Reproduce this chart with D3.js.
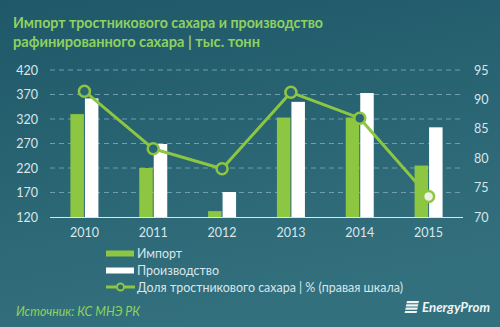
<!DOCTYPE html>
<html>
<head>
<meta charset="utf-8">
<script src="https://cdn.jsdelivr.net/npm/d3@7"></script>
<style>
  html, body { margin: 0; padding: 0; background: #245d6c; }
  svg { display: block; }
</style>
</head>
<body>
<svg id="chart" width="500" height="327"></svg>
<script>
// Data: cane sugar imports, refined sugar production (thousand tonnes), cane share (%)
const years = ["2010", "2011", "2012", "2013", "2014", "2015"];
const importVals = [330, 220, 132, 323, 323, 225];
const productionVals = [362, 269, 171, 355, 373, 303];
const shareVals = [91.4, 81.6, 78.2, 91.2, 86.8, 73.5];
const leftTicks = [120, 170, 220, 270, 320, 370, 420];
const rightTicks = [70, 75, 80, 85, 90, 95];

const titleLines = ["Импорт тростникового сахара и производство", "рафинированного сахара | тыс. тонн"];
const legendLabels = ["Импорт", "Производство", "Доля тростникового сахара | % (правая шкала)"];
const sourceText = "Источник: КС МНЭ РК";

const W = 500, H = 327;
const green = "#8dc640";
const textColor = "#d9e6ec";
const font = "Lato, 'Open Sans', sans-serif";

const svg = d3.select("#chart");

// Background gradient
const defs = svg.append("defs");
const grad = defs.append("linearGradient").attr("id", "bg").attr("x1", 0).attr("y1", 0).attr("x2", 0.3).attr("y2", 1);
grad.append("stop").attr("offset", "0%").attr("stop-color", "#1f5868");
grad.append("stop").attr("offset", "100%").attr("stop-color", "#33707d");
svg.append("rect").attr("width", W).attr("height", H).attr("fill", "url(#bg)");

// Title
const title = svg.append("g").attr("font-family", font).attr("font-weight", "bold")
  .attr("fill", "#8fd160").attr("font-size", 15);
const titleWidths = [310, 247];
titleLines.forEach((t, i) => {
  const tx = title.append("text").attr("x", 13).attr("y", 28 + i * 19).text(t);
  tx.attr("textLength", titleWidths[i]).attr("lengthAdjust", "spacingAndGlyphs");
});

// Scales
const plot = { left: 50, right: 463, top: 70, bottom: 217 };
const x = d3.scaleBand().domain(years).range([plot.left, plot.right]).paddingInner(0).paddingOuter(0);
const yL = d3.scaleLinear().domain([120, 420]).range([plot.bottom, plot.top]);
const yR = d3.scaleLinear().domain([70, 95]).range([plot.bottom, plot.top]);

// Gridlines
svg.append("g").selectAll("line").data(leftTicks.filter(d => d !== 120)).join("line")
  .attr("x1", plot.left).attr("x2", plot.right)
  .attr("y1", d => yL(d)).attr("y2", d => yL(d))
  .attr("stroke", "#6f9eac").attr("stroke-width", 1).attr("stroke-dasharray", "5,4");

// Bars
const barW = 13.5;
const bars = svg.append("g");
bars.selectAll("rect.imp").data(years).join("rect")
  .attr("x", (d) => x(d) + x.bandwidth() / 2 - barW - 0.5)
  .attr("y", (d, i) => yL(importVals[i]))
  .attr("width", barW)
  .attr("height", (d, i) => yL(120) - yL(importVals[i]))
  .attr("fill", green);
bars.selectAll("rect.prod").data(years).join("rect")
  .attr("x", (d) => x(d) + x.bandwidth() / 2 + 0.5)
  .attr("y", (d, i) => yL(productionVals[i]))
  .attr("width", barW)
  .attr("height", (d, i) => yL(120) - yL(productionVals[i]))
  .attr("fill", "#ffffff");

// Baseline
svg.append("line").attr("x1", plot.left).attr("x2", plot.right)
  .attr("y1", plot.bottom + 0.5).attr("y2", plot.bottom + 0.5)
  .attr("stroke", "#d9e6ec").attr("stroke-width", 1.2);

// Share line
const lineGen = d3.line().x((d, i) => x(years[i]) + x.bandwidth() / 2).y(d => yR(d));
svg.append("path").datum(shareVals).attr("d", lineGen)
  .attr("fill", "none").attr("stroke", green).attr("stroke-width", 3).attr("stroke-linejoin", "round");
svg.append("g").selectAll("circle").data(shareVals).join("circle")
  .attr("cx", (d, i) => x(years[i]) + x.bandwidth() / 2)
  .attr("cy", d => yR(d))
  .attr("r", 5.5)
  .attr("fill", (d, i) => i === 5 ? "#eef2e6" : "#2b6675")
  .attr("stroke", green).attr("stroke-width", 2.5);

// Axes
const axisL = d3.axisLeft(yL).tickValues(leftTicks).tickSize(0).tickPadding(0);
const gL = svg.append("g").attr("transform", `translate(38,0)`).call(axisL);
const axisR = d3.axisRight(yR).tickValues(rightTicks).tickSize(0).tickPadding(0);
const gR = svg.append("g").attr("transform", `translate(474,0)`).call(axisR);
const axisX = d3.axisBottom(x).tickSize(0).tickPadding(0);
const gX = svg.append("g").attr("transform", `translate(0,${plot.bottom + 11})`).call(axisX);
[gL, gR, gX].forEach(g => {
  g.select(".domain").remove();
  g.selectAll("text").attr("font-family", font).attr("font-size", 12.5).attr("fill", textColor);
});

// Legend
const legend = svg.append("g").attr("font-family", font).attr("font-size", 13).attr("fill", textColor);
const lx = 106, ly = [253.5, 270.5, 287];
legend.append("rect").attr("x", lx).attr("y", ly[0] - 3).attr("width", 28).attr("height", 6).attr("fill", green);
legend.append("rect").attr("x", lx).attr("y", ly[1] - 3).attr("width", 28).attr("height", 6).attr("fill", "#ffffff");
legend.append("line").attr("x1", lx).attr("x2", lx + 29).attr("y1", ly[2]).attr("y2", ly[2])
  .attr("stroke", green).attr("stroke-width", 3);
legend.append("circle").attr("cx", lx + 14.5).attr("cy", ly[2]).attr("r", 3.5)
  .attr("fill", "#2b6675").attr("stroke", green).attr("stroke-width", 2);
const legendWidths = [45, 82, 266];
legendLabels.forEach((t, i) => {
  legend.append("text").attr("x", lx + 31).attr("y", ly[i]).attr("dy", "0.35em").text(t)
    .attr("textLength", legendWidths[i]).attr("lengthAdjust", "spacingAndGlyphs");
});

// Source
svg.append("text").attr("x", 16).attr("y", 316).attr("font-family", font).attr("font-style", "italic")
  .attr("font-size", 12.5).attr("fill", "#8fd160").text(sourceText)
  .attr("textLength", 124).attr("lengthAdjust", "spacingAndGlyphs");

// Logo
const logo = svg.append("g").attr("fill", "#eef3f5");
[0, 1, 2, 3].forEach(k => {
  logo.append("path").attr("d", `M${407 - k * 0.6},${301 + k * 3.3} l12,0 l-0.6,2.2 l-12,0 z`);
});
logo.append("text").attr("x", 422).attr("y", 312).attr("font-family", font).attr("font-weight", "bold")
  .attr("font-style", "italic").attr("font-size", 14).text("EnergyProm")
  .attr("textLength", 68).attr("lengthAdjust", "spacingAndGlyphs");
</script>
</body>
</html>
